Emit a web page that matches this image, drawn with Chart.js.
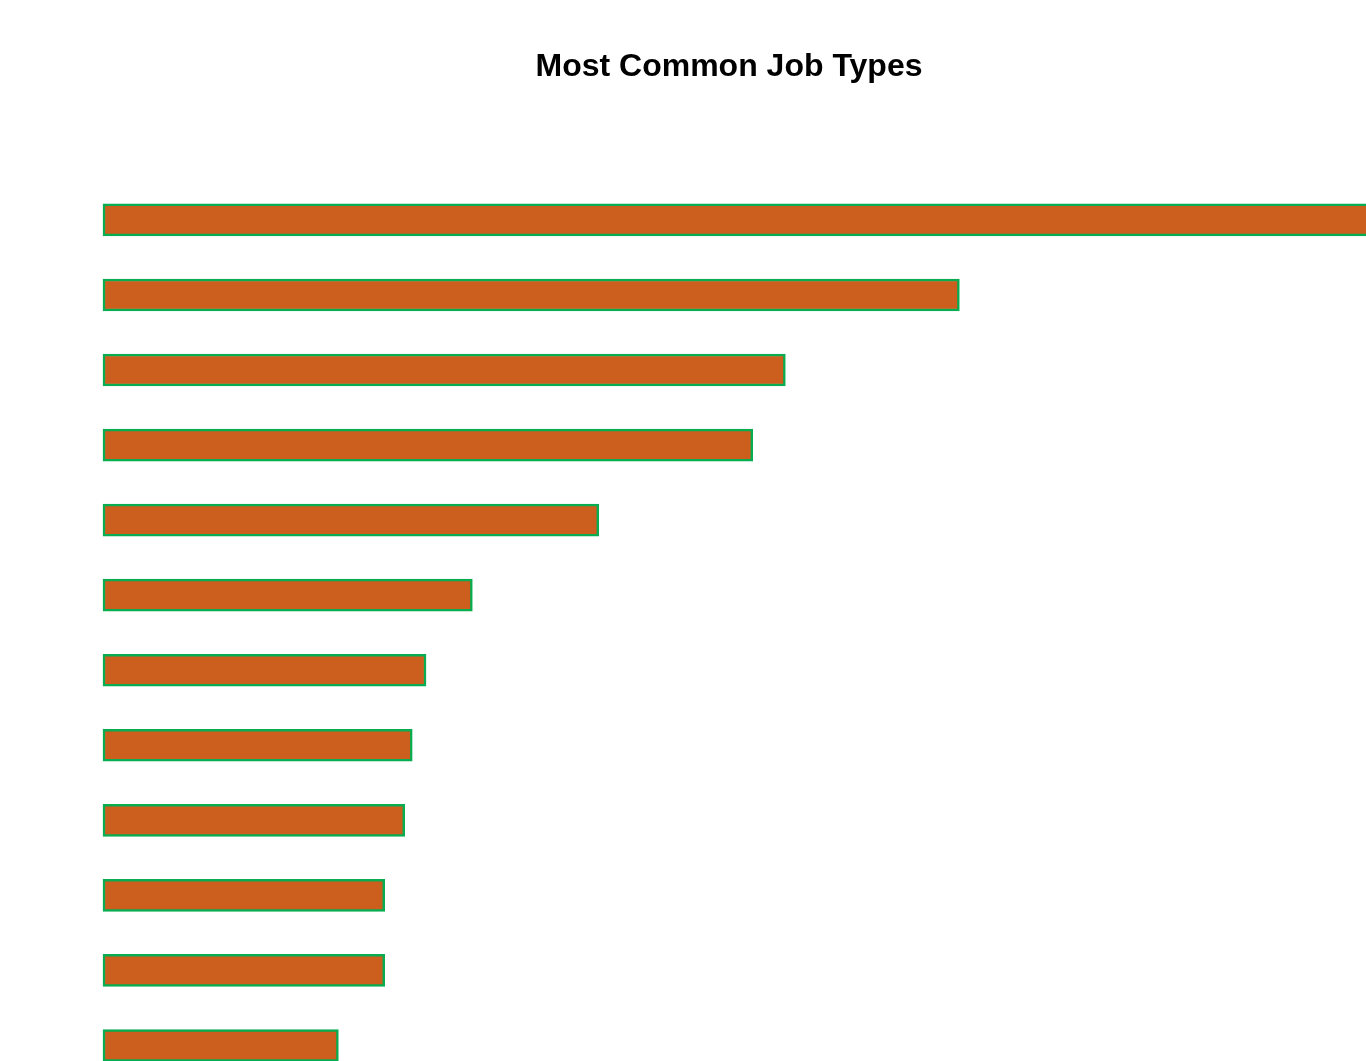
<!DOCTYPE html>
<html>
<head>
<meta charset="utf-8">
<title>Most Common Job Types</title>
<script src="https://cdn.jsdelivr.net/npm/chart.js@4/dist/chart.umd.min.js"></script>
<style>
  html, body { margin: 0; padding: 0; background: #fff; overflow: hidden; }
  #wrap { position: absolute; left: 0; top: 0; width: 1458px; height: 1083px; }
</style>
</head>
<body>
<div id="wrap"><canvas id="jobChart"></canvas></div>
<script>
// job types, most common first
const jobTypes = [
    'Full-time', 'Contract', 'Part-time', 'Internship', 'Temporary', 'Freelance',
    'Remote', 'Seasonal', 'Volunteer', 'Apprenticeship', 'Per diem', 'Other'
];
const jobCounts = [1080, 684, 545, 519, 396, 295, 258, 247, 241, 225, 225, 188];
const xMax = 1000;

Chart.defaults.font.family = '"Liberation Sans", Arial, sans-serif';

const ctx = document.getElementById('jobChart').getContext('2d');
new Chart(ctx, {
    type: 'bar',
    data: {
        labels: jobTypes,
        datasets: [{
            label: 'Jobs',
            data: jobCounts,
            backgroundColor: '#cd5f1e',
            borderColor: '#07ad50',
            borderWidth: 2.5,
            borderSkipped: false,
            barThickness: 32,
            clip: false
        }]
    },
    options: {
        indexAxis: 'y',
        responsive: true,
        maintainAspectRatio: false,
        animation: false,
        layout: { padding: { left: 103, right: 103, top: 0, bottom: 0 } },
        scales: {
            x: { display: false, min: 0, max: xMax },
            y: { display: false }
        },
        plugins: {
            legend: { display: false },
            tooltip: { enabled: false },
            title: {
                display: true,
                text: 'Most Common Job Types',
                color: '#000',
                font: { size: 32, weight: 'bold' },
                padding: { top: 48, bottom: 96 }
            }
        }
    }
});
</script>
</body>
</html>
